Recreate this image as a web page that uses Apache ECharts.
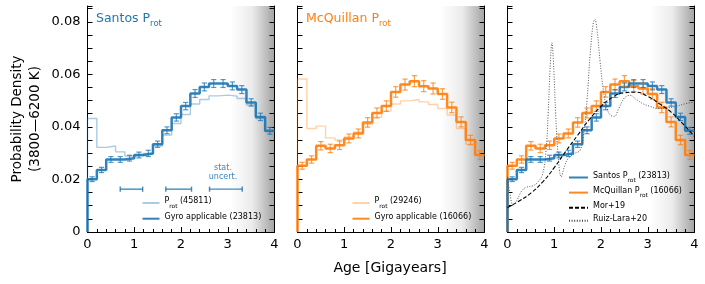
<!DOCTYPE html>
<html><head><meta charset="utf-8">
<script src="https://cdn.jsdelivr.net/npm/echarts@6/dist/echarts.min.js"></script>
<style>html,body{margin:0;padding:0;background:#fff}#c{width:705px;height:284px}</style>
</head><body><div id="c"></div>
<script>
// ---- data ----
const binEdges = [0,0.2,0.4,0.6,0.8,1.0,1.2,1.4,1.6,1.8,2.0,2.2,2.4,2.6,2.8,3.0,3.2,3.4,3.6,3.8,4.0];
const santosAll  = [0.0432,0.0322,0.0327,0.0305,0.0289,0.0291,0.0299,0.0327,0.0369,0.0413,0.0447,0.0487,0.0504,0.0518,0.0521,0.0517,0.0508,0.0483,0.0432,0.0381];
const santosGyro = [0.0201,0.0236,0.0276,0.0276,0.0281,0.0293,0.0299,0.0334,0.0387,0.0436,0.0479,0.0527,0.0552,0.0565,0.0565,0.0556,0.0542,0.0493,0.0438,0.0385];
const santosErr  = [0.0009,0.0010,0.0011,0.0011,0.0011,0.0011,0.0012,0.0012,0.0013,0.0014,0.0014,0.0015,0.0015,0.0015,0.0015,0.0015,0.0015,0.0014,0.0014,0.0013];
const mcqAll  = [0.0582,0.0394,0.0403,0.0358,0.0350,0.0362,0.0381,0.0410,0.0436,0.0460,0.0487,0.0499,0.0504,0.0495,0.0485,0.0470,0.0445,0.0394,0.0334,0.0293];
const mcqGyro = [0.0252,0.0276,0.0328,0.0318,0.0330,0.0356,0.0375,0.0417,0.0453,0.0479,0.0533,0.0561,0.0574,0.0555,0.0546,0.0525,0.0474,0.0419,0.0350,0.0293];
const mcqErr  = [0.0013,0.0014,0.0016,0.0016,0.0016,0.0017,0.0017,0.0018,0.0019,0.0020,0.0020,0.0021,0.0021,0.0021,0.0021,0.0020,0.0020,0.0019,0.0018,0.0017];
const morAge  = [0,0.25,0.5,0.75,1.0,1.25,1.5,1.75,2.0,2.25,2.5,2.75,3.0,3.25,3.5,3.75,4.0];
const morDens = [0.0093,0.0118,0.0148,0.0190,0.0245,0.0308,0.0368,0.0428,0.0478,0.0513,0.0530,0.0532,0.0516,0.0488,0.0456,0.0412,0.0364];
const ruizAge  = [0,0.05,0.12,0.2,0.3,0.4,0.55,0.65,0.75,0.82,0.87,0.91,0.95,0.99,1.03,1.08,1.15,1.22,1.3,1.45,1.55,1.62,1.7,1.77,1.83,1.87,1.92,1.98,2.05,2.13,2.2,2.28,2.38,2.5,2.62,2.75,2.9,3.05,3.2,3.4,3.6,3.8,4.0];
const ruizDens = [0.021,0.015,0.0103,0.012,0.0155,0.017,0.0176,0.019,0.022,0.030,0.045,0.062,0.072,0.062,0.045,0.030,0.021,0.025,0.028,0.030,0.031,0.036,0.050,0.068,0.079,0.081,0.076,0.065,0.054,0.047,0.0445,0.044,0.047,0.051,0.052,0.0505,0.0488,0.0478,0.047,0.0472,0.0478,0.0488,0.0495];
const statCenters = [0.94,1.95,2.96];
const statHalf    = [0.24,0.275,0.35];
const statLevel   = 0.0163;
const xTicks = [0,1,2,3,4];
const yTicks = [0,0.02,0.04,0.06,0.08];

// ---- styling ----
const BLUE='#1f77b4', ORANGE='#ff7f0e';
const FONT='DejaVu Sans';
const YMAX=0.086;
const lefts=[87.5,297.5,507.5];

function stepData(vals){
  const d=[[binEdges[0],0]];
  vals.forEach((v,i)=>d.push([binEdges[i],v]));
  d.push([binEdges[binEdges.length-1],vals[vals.length-1]]);
  return d;
}
function stepSeries(name,gi,vals,color,width,z){
  return {name,type:'line',xAxisIndex:gi,yAxisIndex:gi*2,data:stepData(vals),step:'end',
    symbol:'none',lineStyle:{color,width},itemStyle:{color},z,silent:true,animation:false};
}
function errSeries(gi,vals,errs,color){
  return {type:'custom',xAxisIndex:gi,yAxisIndex:gi*2,z:6,silent:true,animation:false,
    data:vals.map((v,i)=>[(binEdges[i]+binEdges[i+1])/2,v,errs[i]]),
    encode:{x:0,y:1},
    renderItem:(p,api)=>{
      const x=api.value(0),y=api.value(1),e=api.value(2);
      const a=api.coord([x,y-e]),b=api.coord([x,y+e]);
      const st={stroke:color,lineWidth:1.2};
      return {type:'group',children:[
        {type:'line',shape:{x1:a[0],y1:a[1],x2:b[0],y2:b[1]},style:st},
        {type:'line',shape:{x1:a[0]-2.6,y1:a[1],x2:a[0]+2.6,y2:a[1]},style:st},
        {type:'line',shape:{x1:b[0]-2.6,y1:b[1],x2:b[0]+2.6,y2:b[1]},style:st}]};
    }};
}
function shadeSeries(gi){
  return {type:'line',xAxisIndex:gi,yAxisIndex:gi*2,data:[],silent:true,z:0,
    markArea:{silent:true,data:[[{xAxis:3.05,yAxis:0},{xAxis:4,yAxis:YMAX}]],
      itemStyle:{color:{type:'linear',x:0,y:0,x2:1,y2:0,colorStops:[
        {offset:0,color:'rgba(0,0,0,0)'},{offset:0.5,color:'rgba(0,0,0,0.08)'},{offset:1,color:'rgba(0,0,0,0.36)'}]}}}};
}

const grids=[],xAxes=[],yAxes=[];
lefts.forEach((l,gi)=>{
  grids.push({left:l,top:6,width:187,height:226});
  xAxes.push({type:'value',gridIndex:gi,min:0,max:4,interval:1,
    axisLine:{lineStyle:{color:'#000',width:1}},
    axisTick:{inside:true,length:5,lineStyle:{color:'#000'}},
    minorTick:{show:true,splitNumber:5,length:3,lineStyle:{color:'#000'}},
    splitLine:{show:false},
    axisLabel:{fontFamily:FONT,fontSize:13,color:'#000',margin:6,formatter:v=>xTicks.includes(v)?String(v):''}});
  const common={type:'value',gridIndex:gi,min:0,max:YMAX,interval:0.02,
    axisLine:{show:true,lineStyle:{color:'#000',width:1}},
    axisTick:{show:true,inside:true,length:5,lineStyle:{color:'#000'}},
    minorTick:{show:true,splitNumber:4,length:5,lineStyle:{color:'#000'}},
    splitLine:{show:false}};
  yAxes.push(Object.assign({},common,{position:'left',
    axisLabel:{show:gi===0,fontFamily:FONT,fontSize:13,color:'#000',margin:7,
      formatter:v=>{const k=yTicks.findIndex(t=>Math.abs(t-v)<1e-9);return k<0?'':(v===0?'0':v.toFixed(2));}}}));
  yAxes.push(Object.assign({},common,{position:'right',axisLabel:{show:false}}));
});

const series=[
  shadeSeries(0),shadeSeries(1),shadeSeries(2),
  stepSeries('sAll',0,santosAll,'rgba(31,119,180,0.38)',1.4,2),
  stepSeries('sGyro',0,santosGyro,'rgba(31,119,180,0.92)',2.5,3),
  errSeries(0,santosGyro,santosErr,'rgba(31,119,180,0.75)'),
  {type:'custom',xAxisIndex:0,yAxisIndex:0,z:6,silent:true,animation:false,
    data:statCenters.map((c,i)=>[c,statLevel,statHalf[i]]),encode:{x:0,y:1},
    renderItem:(p,api)=>{
      const c=api.value(0),y=api.value(1),h=api.value(2);
      const a=api.coord([c-h,y]),b=api.coord([c+h,y]);
      const st={stroke:'rgba(31,119,180,0.85)',lineWidth:1.4};
      return {type:'group',children:[
        {type:'line',shape:{x1:a[0],y1:a[1],x2:b[0],y2:b[1]},style:st},
        {type:'line',shape:{x1:a[0],y1:a[1]-2.6,x2:a[0],y2:a[1]+2.6},style:st},
        {type:'line',shape:{x1:b[0],y1:b[1]-2.6,x2:b[0],y2:b[1]+2.6},style:st}]};
    }},
  stepSeries('mAll',1,mcqAll,'rgba(255,127,14,0.35)',1.4,2),
  stepSeries('mGyro',1,mcqGyro,'rgba(255,127,14,0.92)',2.5,3),
  errSeries(1,mcqGyro,mcqErr,'rgba(255,127,14,0.75)'),
  stepSeries('mGyro3',2,mcqGyro,'rgba(255,127,14,0.92)',2.5,2),
  errSeries(2,mcqGyro,mcqErr,'rgba(255,127,14,0.75)'),
  stepSeries('sGyro3',2,santosGyro,'rgba(31,119,180,0.92)',2.5,3),
  errSeries(2,santosGyro,santosErr,'rgba(31,119,180,0.75)'),
  {name:'mor',type:'line',xAxisIndex:2,yAxisIndex:4,smooth:true,symbol:'none',z:7,silent:true,animation:false,
    data:morAge.map((a,i)=>[a,morDens[i]]),lineStyle:{color:'#000',width:1.1,type:[4,2]},itemStyle:{color:'#000'}},
  {name:'ruiz',type:'line',xAxisIndex:2,yAxisIndex:4,smooth:0.4,symbol:'none',z:7,silent:true,animation:false,
    data:ruizAge.map((a,i)=>[a,ruizDens[i]]),lineStyle:{color:'#444',width:0.9,type:[1,1.6]},itemStyle:{color:'#444'}}
];

const subRich={n:{fontFamily:FONT,fontSize:8,color:'#000',lineHeight:12,verticalAlign:'top'},
               s:{fontFamily:FONT,fontSize:5.8,color:'#000',lineHeight:7,verticalAlign:'bottom'}};
const labels={
  sAll:'{n|P}{s|rot}{n| (45811)}', sGyro:'{n|Gyro applicable (23813)}',
  mAll:'{n|P}{s|rot}{n| (29246)}', mGyro:'{n|Gyro applicable (16066)}',
  sGyro3:'{n|Santos P}{s|rot}{n| (23813)}', mGyro3:'{n|McQuillan P}{s|rot}{n| (16066)}',
  mor:'{n|Mor+19}', ruiz:'{n|Ruiz-Lara+20}'};
function legend(data,left,top,w,gap){
  return {data,left,top,orient:'vertical',itemWidth:w,itemHeight:10,itemGap:gap,padding:0,
    selectedMode:false,formatter:n=>labels[n],itemStyle:{opacity:0,borderWidth:0},
    textStyle:{rich:subRich,padding:[0,0,0,0]}};
}

const titleRich=(c)=>({a:{fontFamily:FONT,fontSize:12.5,fill:c,lineHeight:16,verticalAlign:'top'},
                       b:{fontFamily:FONT,fontSize:8.5,fill:c,lineHeight:10,verticalAlign:'bottom'}});

const chart=echarts.init(document.getElementById('c'),null,{renderer:'canvas'});
chart.setOption({
  animation:false,
  grid:grids,xAxis:xAxes,yAxis:yAxes,series,
  legend:[legend(['sAll','sGyro'],141.5,197,17,3.7),
          legend(['mAll','mGyro'],351.5,197,17,3.7),
          legend(['sGyro3','mGyro3','mor','ruiz'],568,171.5,19,3.1)],
  graphic:[
    {type:'text',left:96,top:12,style:{text:'{a|Santos P}{b|rot}',fill:BLUE,rich:titleRich(BLUE)}},
    {type:'text',left:306,top:12,style:{text:'{a|McQuillan P}{b|rot}',fill:ORANGE,rich:titleRich(ORANGE)}},
    {type:'text',x:223,y:172,style:{text:'stat.\nuncert.',fontFamily:FONT,fontSize:8,lineHeight:9,fill:'rgba(31,119,180,0.9)',align:'center',verticalAlign:'middle'}},
    {type:'text',x:26,y:119,rotation:Math.PI/2,style:{text:'Probability Density\n(3800—6200 K)',fontFamily:FONT,fontSize:13.5,lineHeight:18,fill:'#000',align:'center',verticalAlign:'middle'}},
    {type:'text',x:390,y:268,style:{text:'Age [Gigayears]',fontFamily:FONT,fontSize:14,fill:'#000',align:'center',verticalAlign:'middle'}}
  ]
});
</script></body></html>
